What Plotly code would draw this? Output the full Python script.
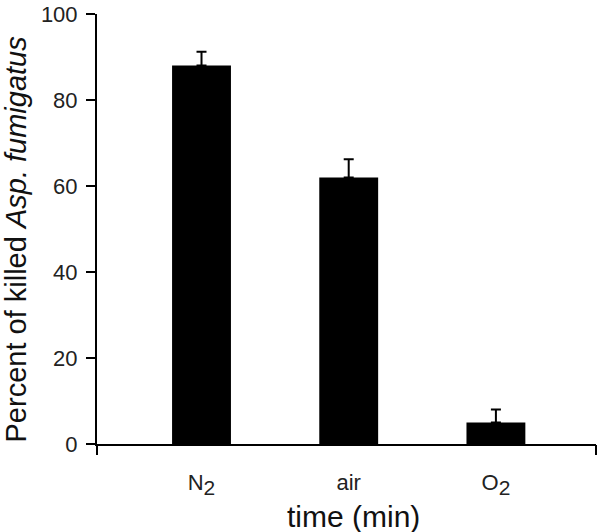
import plotly.graph_objects as go

gases = ["N<sub><span style='font-size:21px'>2</span></sub>", "air",
         "O<sub><span style='font-size:21px'>2</span></sub>"]
killed = [88, 62, 5]
err_up = [3.2, 4.2, 3.0]
y_ticks = [0, 20, 40, 60, 80, 100]

x_pos = list(range(len(gases)))
x_range = [-0.71, 2.68]

fig = go.Figure()
fig.add_trace(go.Bar(
    x=x_pos, y=killed, width=0.4,
    marker=dict(color="black", line=dict(width=0)),
    error_y=dict(type="data", symmetric=False, array=err_up,
                 arrayminus=[0] * len(killed),
                 color="black", thickness=2, width=5),
    showlegend=False,
))
# invisible trace on a second x-axis to draw the end ticks of the x axis
fig.add_trace(go.Scatter(x=x_range, y=[0, 0], xaxis="x2", mode="lines",
                         line=dict(width=0), showlegend=False, hoverinfo="skip"))

font = "Liberation Sans, Arial, sans-serif"
fig.update_layout(
    width=600, height=532,
    margin=dict(l=97, r=4, t=14, b=88),
    paper_bgcolor="white", plot_bgcolor="white",
    font=dict(family=font, color="#222222"),
    xaxis=dict(range=x_range, tickvals=x_pos, ticktext=gases, ticks="",
               showline=True, linecolor="black", linewidth=2,
               showgrid=False, zeroline=False, automargin=False,
               ticklabelstandoff=18,
               tickfont=dict(size=22, color="#222222")),
    xaxis2=dict(range=x_range, overlaying="x", side="bottom",
                tickvals=x_range, showticklabels=False, ticks="outside",
                ticklen=10, tickwidth=2, tickcolor="black", automargin=False,
                showgrid=False, zeroline=False, showline=False),
    yaxis=dict(range=[0, 100], tickvals=y_ticks, ticks="outside",
               ticklen=9, tickwidth=2, tickcolor="black",
               showline=True, linecolor="black", linewidth=2,
               showgrid=False, zeroline=False, automargin=False,
               ticklabelstandoff=4, ticklabeloverflow="allow",
               tickfont=dict(size=22, color="#222222")),
    annotations=[
        dict(text="Percent of killed <i>Asp. fumigatus</i>",
             xref="paper", yref="paper", x=-0.162, y=0.476,
             xanchor="center", yanchor="middle", textangle=-90,
             showarrow=False, font=dict(size=29, color="#111111")),
        dict(text="time (min)",
             xref="paper", yref="paper", x=0.514, y=-0.168,
             xanchor="center", yanchor="middle",
             showarrow=False, font=dict(size=30, color="#111111")),
    ],
)

fig.write_html("out.html", config={"displayModeBar": False},
               post_script="document.body.style.margin = '0';")
